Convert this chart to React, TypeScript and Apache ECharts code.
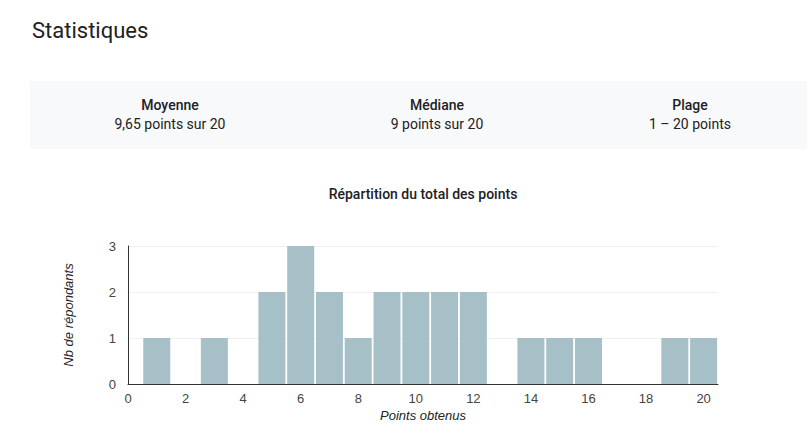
import React, { useEffect, useRef } from "react";
import * as echarts from "echarts";

const pageTitle = "Statistiques";
const statLabels = ["Moyenne", "Médiane", "Plage"];
const statValues = ["9,65 points sur 20", "9 points sur 20", "1 – 20 points"];
const statCenters = [170, 437, 690];
const chartTitle = "Répartition du total des points";
const xName = "Points obtenus";
const yName = "Nb de répondants";
const points = [1, 3, 5, 6, 7, 8, 9, 10, 11, 12, 14, 15, 16, 19, 20];
const counts = [1, 1, 2, 3, 2, 1, 2, 2, 2, 2, 1, 1, 1, 1, 1];

export default function App() {
  const ref = useRef<HTMLDivElement>(null);
  useEffect(() => {
    if (!ref.current) return;
    const chart = echarts.init(ref.current, null, { renderer: "svg" });
    const graphics: any[] = [
      {
        type: "text",
        left: 32,
        top: 19,
        style: { text: pageTitle, font: "400 22px Roboto", fill: "#202124" },
      },
      {
        type: "rect",
        shape: { x: 30, y: 81, width: 800, height: 68 },
        style: { fill: "#f8f9fa" },
        z: -1,
      },
    ];
    statLabels.forEach((l, i) => {
      graphics.push({
        type: "text",
        x: statCenters[i],
        y: 105,
        style: {
          text: l,
          font: "500 14px Roboto",
          fill: "#202124",
          align: "center",
          verticalAlign: "middle",
        },
      });
      graphics.push({
        type: "text",
        x: statCenters[i],
        y: 124,
        style: {
          text: statValues[i],
          font: "400 14px Roboto",
          fill: "#202124",
          align: "center",
          verticalAlign: "middle",
        },
      });
    });
    graphics.push({
      type: "text",
      x: 423,
      y: 194,
      style: {
        text: chartTitle,
        font: "500 14px Roboto",
        fill: "#202124",
        align: "center",
        verticalAlign: "middle",
      },
    });

    chart.setOption({
      animation: false,
      graphic: graphics,
      grid: { left: 128, right: 89, top: 246, bottom: 47 },
      xAxis: {
        type: "value",
        min: 0,
        max: 20.5,
        interval: 2,
        name: xName,
        nameLocation: "middle",
        nameGap: 25,
        nameTextStyle: {
          fontFamily: "Liberation Sans",
          fontSize: 13,
          fontStyle: "italic",
          color: "#222",
        },
        axisLine: { show: true, lineStyle: { color: "#333", width: 1 } },
        axisTick: { show: false },
        splitLine: { show: false },
        axisLabel: {
          fontFamily: "Liberation Sans",
          fontSize: 13,
          color: "#444",
          margin: 8,
          showMaxLabel: false,
          formatter: (v: number) => (Number.isInteger(v) ? String(v) : ""),
        },
      },
      yAxis: {
        type: "value",
        min: 0,
        max: 3,
        interval: 1,
        name: yName,
        nameLocation: "middle",
        nameGap: 53,
        nameTextStyle: {
          fontFamily: "Liberation Sans",
          fontSize: 13,
          fontStyle: "italic",
          color: "#222",
        },
        axisLine: { show: true, lineStyle: { color: "#333", width: 1 } },
        axisTick: { show: false },
        splitLine: { show: true, lineStyle: { color: "#f0f0f0" } },
        axisLabel: {
          fontFamily: "Liberation Sans",
          fontSize: 13,
          color: "#444",
          margin: 12,
        },
      },
      series: [
        {
          type: "bar",
          data: points.map((p, i) => [p, counts[i]]),
          barWidth: 27,
          itemStyle: { color: "#a7c0c8" },
          silent: true,
        },
      ],
    });
    return () => chart.dispose();
  }, []);
  return (
    <div
      ref={ref}
      style={{ position: "fixed", left: 0, top: 0, width: 807, height: 431, background: "#fff" }}
    />
  );
}
